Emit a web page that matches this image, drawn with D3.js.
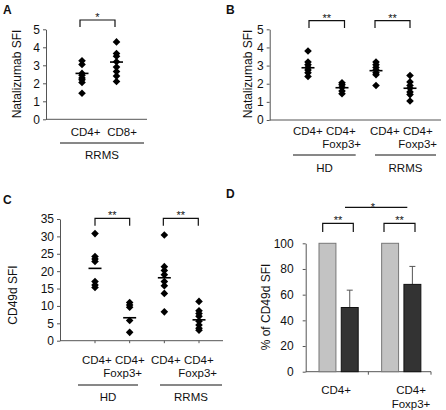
<!DOCTYPE html>
<html>
<head>
<meta charset="utf-8">
<script src="https://cdn.jsdelivr.net/npm/d3@7"></script>
<style>
  body { margin: 0; background: #fff; }
  svg { display: block; font-family: "Liberation Sans", Arial, sans-serif; }
</style>
</head>
<body>
<script>
// ---------------- DATA ----------------
// Panel A: Natalizumab SFI, RRMS
const aCategories = ["CD4+", "CD8+"];
const aCD4 = [3.25, 3.05, 2.55, 2.45, 2.3, 2.2, 2.05, 1.45];
const aCD8 = [4.3, 3.65, 3.5, 3.2, 2.9, 2.65, 2.4, 2.1];
const aMeans = [2.55, 3.18];
const aTicks = [0, 1, 2, 3, 4, 5];

// Panel B: Natalizumab SFI, HD and RRMS
const bGroups = ["HD", "RRMS"];
const bHdCD4 = [3.8, 3.2, 3.05, 2.9, 2.75, 2.6, 2.4];
const bHdFoxp3 = [2.05, 1.95, 1.8, 1.6, 1.45];
const bRrmsCD4 = [3.2, 3.05, 2.9, 2.75, 2.6, 2.5, 1.9];
const bRrmsFoxp3 = [2.45, 2.1, 1.9, 1.75, 1.55, 1.4, 1.05];
const bMeans = [2.88, 1.78, 2.72, 1.75];
const bTicks = [0, 1, 2, 3, 4, 5];

// Panel C: CD49d SFI, HD and RRMS
const cGroups = ["HD", "RRMS"];
const cHdCD4 = [30.8, 24.2, 23.5, 22.8, 17.0, 16.0, 15.3];
const cHdFoxp3 = [11.0, 10.3, 9.6, 5.8, 2.4];
const cRrmsCD4 = [30.4, 21.3, 20.2, 19.0, 17.0, 15.8, 13.6, 8.3];
const cRrmsFoxp3 = [11.3, 8.6, 7.8, 7.0, 5.6, 4.5, 3.6, 3.0];
const cMeans = [20.8, 6.6, 18.1, 6.0];
const cTicks = [0, 5, 10, 15, 20, 25, 30, 35];

// Panel D: % of CD49d SFI
const dCategories = ["CD4+", "CD4+ Foxp3+"];
const dSeries = ["untreated", "treated"];
const dUntreated = [100, 100];
const dTreated = [50, 68];
const dTreatedErr = [13.5, 14];
const dTicks = [0, 20, 40, 60, 80, 100];

// ---------------- DRAW ----------------
const W = 446, H = 410;
const svg = d3.select("body").append("svg").attr("width", W).attr("height", H);
const FS = 11.5;
const TFS = 12;
const axisColor = "#555";

function diamond(g, x, y, r) {
  g.append("path")
    .attr("d", `M${x},${y - r}L${x + r},${y}L${x},${y + r}L${x - r},${y}Z`)
    .attr("fill", "#000");
}

function yAxis(g, y, ticks, x, pad = 3) {
  const ax = g.append("g").attr("transform", `translate(${x},0)`)
    .call(d3.axisLeft(y).tickValues(ticks).tickFormat(d3.format("d"))
      .tickSize(3).tickSizeOuter(0).tickPadding(pad));
  ax.selectAll("path,line").attr("stroke", axisColor);
  ax.selectAll("text").attr("font-size", TFS).attr("font-family", "Liberation Sans, Arial").attr("fill", "#111");
  return ax;
}

function yTitle(g, s, x, y) {
  g.append("text").attr("transform", `translate(${x},${y}) rotate(-90)`)
    .attr("text-anchor", "middle").attr("dy", "0.35em")
    .attr("font-size", TFS).attr("fill", "#111").text(s);
}

function text(g, s, x, y, anchor = "middle", size = FS, weight = "normal") {
  g.append("text").attr("x", x).attr("y", y).attr("dy", "0.35em")
    .attr("text-anchor", anchor).attr("font-size", size).attr("font-weight", weight)
    .attr("fill", "#111").text(s);
}

function hline(g, x1, x2, y, color = "#111", w = 1) {
  g.append("line").attr("x1", x1).attr("x2", x2).attr("y1", y).attr("y2", y)
    .attr("stroke", color).attr("stroke-width", w);
}

function bracket(g, x1, x2, yTop, yBot, stars) {
  g.append("path").attr("d", `M${x1},${yBot}V${yTop}H${x2}V${yBot}`)
    .attr("fill", "none").attr("stroke", "#111").attr("stroke-width", 1.2);
  g.append("text").attr("x", (x1 + x2) / 2).attr("y", yTop + 1)
    .attr("text-anchor", "middle").attr("font-size", 11).attr("fill", "#111").text(stars);
}

function scatter(g, x, y, seriesList, means) {
  seriesList.forEach((vals, i) => {
    vals.forEach(v => diamond(g, x(i), y(v), 3.8));
    g.append("line").attr("x1", x(i) - 6.5).attr("x2", x(i) + 6.5)
      .attr("y1", y(means[i])).attr("y2", y(means[i]))
      .attr("stroke", "#000").attr("stroke-width", 1.6);
  });
}

// Panel letters
text(svg, "A", 3, 10, "start", 12, "bold");
text(svg, "B", 226, 10, "start", 12, "bold");
text(svg, "C", 3, 200, "start", 12, "bold");
text(svg, "D", 226, 194, "start", 12, "bold");

// ---- Panel A ----
{
  const g = svg.append("g");
  const y = d3.scaleLinear().domain([0, 5]).range([119.3, 29.3]);
  const x = d3.scaleLinear().domain([0, 1]).range([82, 116.5]);
  yAxis(g, y, aTicks, 46);
  hline(g, 46, 147, y(0), axisColor);
  scatter(g, x, y, [aCD4, aCD8], aMeans);
  yTitle(g, "Natalizumab SFI", 17, 74);
  aCategories.forEach((c, i) => text(g, c, x(i) + 3.5 + i * 2, 131.5));
  hline(g, 60, 144, 143);
  text(g, "RRMS", 102, 155);
  bracket(g, x(0) - 2, x(1) - 1.5, 20, 27, "*");
}

// ---- Panel B ----
{
  const g = svg.append("g");
  const y = d3.scaleLinear().domain([0, 5]).range([120, 29.3]);
  const x = d3.scaleLinear().domain([0, 3]).range([308, 410]);
  yAxis(g, y, bTicks, 269.7);
  hline(g, 269.7, 441, y(0), axisColor);
  scatter(g, x, y, [bHdCD4, bHdFoxp3, bRrmsCD4, bRrmsFoxp3], bMeans);
  yTitle(g, "Natalizumab SFI", 248, 74);
  text(g, "CD4+ CD4+", 293, 131, "start");
  text(g, "CD4+ CD4+", 370, 131, "start");
  text(g, "Foxp3+", 361, 143.5, "end");
  text(g, "Foxp3+", 437, 143.5, "end");
  hline(g, 293, 355.7, 155);
  hline(g, 375, 436, 155);
  text(g, bGroups[0], 324.5, 167.5);
  text(g, bGroups[1], 405.5, 167.5);
  bracket(g, x(0) + 1, x(1) + 2.5, 20.7, 28, "**");
  bracket(g, x(2) - 1, x(3), 20.7, 28, "**");
}

// ---- Panel C ----
{
  const g = svg.append("g");
  const y = d3.scaleLinear().domain([0, 35]).range([340.7, 219]);
  const x = d3.scaleLinear().domain([0, 3]).range([95, 199]);
  yAxis(g, y, cTicks, 60);
  hline(g, 60, 223, y(0), axisColor);
  [0, 1, 2, 3].forEach(i => g.append("line").attr("x1", x(i)).attr("x2", x(i))
    .attr("y1", y(0)).attr("y2", y(0) + 2.5).attr("stroke", axisColor));
  scatter(g, x, y, [cHdCD4, cHdFoxp3, cRrmsCD4, cRrmsFoxp3], cMeans);
  yTitle(g, "CD49d  SFI", 13, 295);
  text(g, "CD4+ CD4+", 82, 360, "start");
  text(g, "CD4+ CD4+", 151, 360, "start");
  text(g, "Foxp3+", 142, 373.3, "end");
  text(g, "Foxp3+", 217, 373.3, "end");
  hline(g, 78, 138, 385);
  hline(g, 160, 222, 385);
  text(g, cGroups[0], 108, 397);
  text(g, cGroups[1], 191, 397);
  bracket(g, x(0), x(1), 218.3, 225.7, "**");
  bracket(g, x(2) - 1, x(3) - 0.7, 218.3, 225.7, "**");
}

// ---- Panel D ----
{
  const g = svg.append("g");
  const y = d3.scaleLinear().domain([0, 100]).range([371.7, 243.3]);
  const x0 = d3.scaleBand().domain(dCategories).range([305.7, 431]);
  const x1 = d3.scaleBand().domain(dSeries).range([13.3, 52.5]).paddingInner(0.24);
  yAxis(g, y, dTicks, 305.7, 9);
  hline(g, 305.7, 431, y(0), axisColor);
  [x0.range()[0] + x0.bandwidth(), x0.range()[1]].forEach(xx =>
    g.append("line").attr("x1", xx).attr("x2", xx).attr("y1", y(0)).attr("y2", y(0) + 3)
      .attr("stroke", axisColor));
  dCategories.forEach((c, i) => {
    const gx = x0(c);
    g.append("rect").attr("x", gx + x1("untreated")).attr("width", x1.bandwidth())
      .attr("y", y(dUntreated[i])).attr("height", y(0) - y(dUntreated[i]))
      .attr("fill", "#c3c3c3").attr("stroke", "#777").attr("stroke-width", 1);
    const cx = gx + x1("treated") + x1.bandwidth() / 2;
    g.append("line").attr("x1", cx).attr("x2", cx)
      .attr("y1", y(dTreated[i])).attr("y2", y(dTreated[i] + dTreatedErr[i]))
      .attr("stroke", "#555").attr("stroke-width", 1);
    g.append("line").attr("x1", cx - 3).attr("x2", cx + 3)
      .attr("y1", y(dTreated[i] + dTreatedErr[i])).attr("y2", y(dTreated[i] + dTreatedErr[i]))
      .attr("stroke", "#555").attr("stroke-width", 1);
    g.append("rect").attr("x", gx + x1("treated")).attr("width", x1.bandwidth())
      .attr("y", y(dTreated[i])).attr("height", y(0) - y(dTreated[i]))
      .attr("fill", "#333").attr("stroke", "#111").attr("stroke-width", 1);
  });
  yTitle(g, "% of CD49d SFI", 266, 307);
  text(g, "CD4+", 336, 390);
  text(g, "CD4+", 411, 390);
  text(g, "Foxp3+", 411, 404);
  bracket(g, 322.7, 353.3, 223.3, 232, "**");
  bracket(g, 384, 415, 223.3, 232, "**");
  hline(g, 345, 407.3, 207.3, "#111", 1.2);
  g.append("text").attr("x", 373).attr("y", 211).attr("text-anchor", "middle")
    .attr("font-size", 11).attr("fill", "#111").text("*");
}
</script>
</body>
</html>
